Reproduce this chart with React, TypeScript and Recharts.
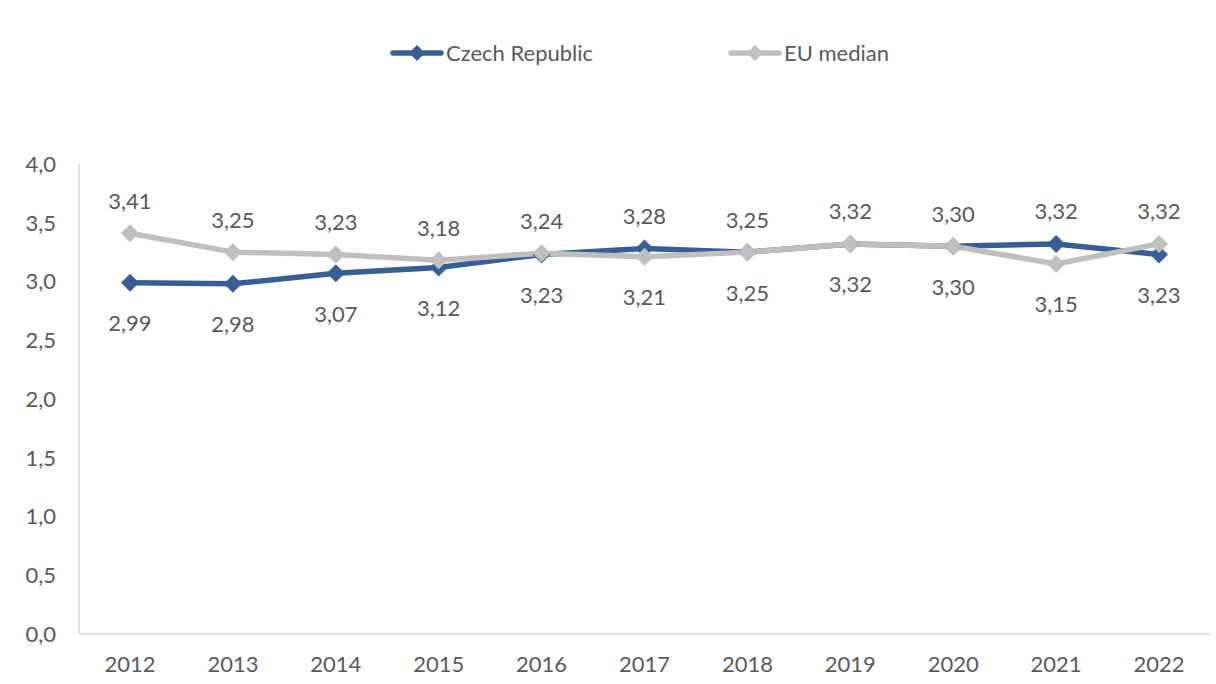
import React from 'react';
import { LineChart, Line, XAxis, YAxis, LabelList } from 'recharts';

const years = ['2012', '2013', '2014', '2015', '2016', '2017', '2018', '2019', '2020', '2021', '2022'];
const czechRepublic = [2.99, 2.98, 3.07, 3.12, 3.23, 3.28, 3.25, 3.32, 3.30, 3.32, 3.23];
const euMedian = [3.41, 3.25, 3.23, 3.18, 3.24, 3.21, 3.25, 3.32, 3.30, 3.15, 3.32];
const yTicks = [0, 0.5, 1, 1.5, 2, 2.5, 3, 3.5, 4];
const seriesNames = ['Czech Republic', 'EU median'];

const BLUE = '#375f93';
const GRAY = '#bfbfbf';
const TEXT = '#595959';
const FONT = 'Lato, "Noto Sans", sans-serif';
const FS = 22;

const data = years.map((y, i) => ({ year: y, cz: czechRepublic[i], eu: euMedian[i] }));

const fmt = (v: number) => v.toFixed(2).replace('.', ',');

const Diamond = (color: string) => (props: any) => {
  const { cx, cy, index } = props;
  if (cx == null || cy == null) return null;
  const r = 9;
  return (
    <polygon
      key={index}
      points={`${cx},${cy - r} ${cx + r},${cy} ${cx},${cy + r} ${cx - r},${cy}`}
      fill={color}
    />
  );
};

const makeLabel = (isCz: boolean) => (props: any) => {
  const { x, y, index } = props;
  const own = isCz ? czechRepublic[index] : euMedian[index];
  const other = isCz ? euMedian[index] : czechRepublic[index];
  const above = isCz ? own > other : own >= other;
  const ty = above ? y - 33 : y + 40;
  return (
    <text
      key={index}
      x={x}
      y={ty}
      textAnchor="middle"
      dominantBaseline="central"
      fill={TEXT}
      fontSize={FS}
      fontFamily={FONT}
    >
      {fmt(own)}
    </text>
  );
};

const LegendItem = ({ color, label, left }: { color: string; label: string; left: number }) => (
  <div style={{ position: 'absolute', top: 39, left, display: 'flex', alignItems: 'center' }}>
    <svg width={54} height={20}>
      <line x1={3} y1={10} x2={51} y2={10} stroke={color} strokeWidth={5.5} strokeLinecap="round" />
      <polygon points="27,2 35,10 27,18 19,10" fill={color} />
    </svg>
    <span style={{ color: TEXT, fontSize: FS, fontFamily: FONT, marginLeft: 2, whiteSpace: 'nowrap' }}>{label}</span>
  </div>
);

export default function App() {
  return (
    <div style={{ position: 'absolute', left: 0, top: 0, width: 1216, height: 684, background: '#fff' }}>
      <LegendItem color={BLUE} label={seriesNames[0]} left={390} />
      <LegendItem color={GRAY} label={seriesNames[1]} left={728} />
      <LineChart
        width={1216}
        height={684}
        data={data}
        margin={{ top: 164, right: 6, bottom: 10, left: 0 }}
      >
        <XAxis
          dataKey="year"
          height={40}
          padding={{ left: 51, right: 51 }}
          tickSize={0}
          tickMargin={22}
          axisLine={{ stroke: '#d9d9d9', strokeWidth: 1.5 }}
          tick={{ fill: TEXT, fontSize: FS, fontFamily: FONT }}
        />
        <YAxis
          width={79}
          domain={[0, 4]}
          ticks={yTicks}
          interval={0}
          tickSize={0}
          tickMargin={23}
          axisLine={{ stroke: '#d9d9d9', strokeWidth: 1.5 }}
          tickFormatter={(v: number) => v.toFixed(1).replace('.', ',')}
          tick={{ fill: TEXT, fontSize: FS, fontFamily: FONT }}
        />
        <Line
          dataKey="cz"
          name={seriesNames[0]}
          stroke={BLUE}
          strokeWidth={5.5}
          dot={Diamond(BLUE)}
          activeDot={false}
          isAnimationActive={false}
        >
          <LabelList dataKey="cz" content={makeLabel(true)} />
        </Line>
        <Line
          dataKey="eu"
          name={seriesNames[1]}
          stroke={GRAY}
          strokeWidth={5.5}
          dot={Diamond(GRAY)}
          activeDot={false}
          isAnimationActive={false}
        >
          <LabelList dataKey="eu" content={makeLabel(false)} />
        </Line>
      </LineChart>
    </div>
  );
}
